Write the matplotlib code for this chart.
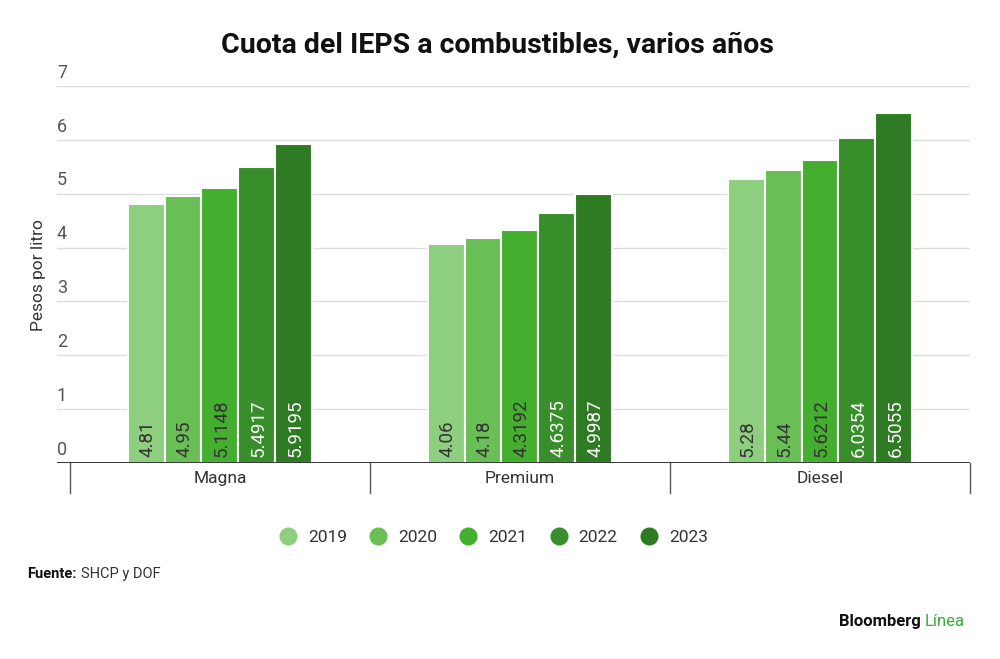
import matplotlib
matplotlib.use('Agg')
import matplotlib.pyplot as plt
from matplotlib.lines import Line2D
import numpy as np

plt.rcParams['font.family'] = ['Roboto', 'DejaVu Sans']

categories = ['Magna', 'Premium', 'Diesel']
years = ['2019', '2020', '2021', '2022', '2023']
values = {
    '2019': [4.81, 4.06, 5.28],
    '2020': [4.95, 4.18, 5.44],
    '2021': [5.1148, 4.3192, 5.6212],
    '2022': [5.4917, 4.6375, 6.0354],
    '2023': [5.9195, 4.9987, 6.5055],
}
labels = {
    '2019': ['4.81', '4.06', '5.28'],
    '2020': ['4.95', '4.18', '5.44'],
    '2021': ['5.1148', '4.3192', '5.6212'],
    '2022': ['5.4917', '4.6375', '6.0354'],
    '2023': ['5.9195', '4.9987', '6.5055'],
}
colors = ['#8dcf7f', '#69be55', '#44ae2e', '#388e2a', '#2e7b23']
text_colors = ['#333333', '#333333', '#333333', 'white', 'white']
y_ticks = [0, 1, 2, 3, 4, 5, 6, 7]

fig = plt.figure(figsize=(10, 6.59), dpi=100)
ax = fig.add_axes([0.057, 0.2974, 0.913, 0.572])

x = np.arange(len(categories))
slot = 0.1233
for i, yr in enumerate(years):
    pos = x + (i - 2) * slot
    ax.bar(pos, values[yr], width=slot, color=colors[i],
           edgecolor='white', linewidth=1.5, zorder=3)
    for p, lab in zip(pos, labels[yr]):
        ax.text(p + 0.005, 0.12, lab, rotation=90, ha='center', va='bottom',
                fontsize=13.5, color=text_colors[i], zorder=4)

ax.set_xlim(-0.5433, 2.5)
ax.set_ylim(0, 7)

# gridlines and y labels placed above the lines
for t in y_ticks[1:]:
    ax.axhline(t, color='#dddddd', linewidth=1, zorder=1)
for t in y_ticks:
    ax.text(-0.5433, t + 0.08, str(t), ha='left', va='bottom',
            fontsize=13, color='#555555')
ax.axhline(0, color='#222222', linewidth=2, zorder=5)

# category separators below the axis
for s in [-0.5, 0.5, 1.5, 2.5]:
    ax.plot([s, s], [0, -0.55], color='#555555', linewidth=1, clip_on=False)
for xi, c in zip(x, categories):
    ax.text(xi, -0.28, c, ha='center', va='center', fontsize=12.5, color='#333333')

for sp in ax.spines.values():
    sp.set_visible(False)
ax.set_xticks([])
ax.set_yticks([])

fig.text(0.038, 0.583, 'Pesos por litro', rotation=90, ha='center', va='center',
         fontsize=12.5, color='#333333')

fig.text(0.497, 0.932, 'Cuota del IEPS a combustibles, varios años', ha='center',
         va='center', fontsize=20.5, fontweight='bold', color='#111111')

handles = [Line2D([], [], marker='o', linestyle='none', markersize=12,
                  markerfacecolor=c, markeredgecolor=c) for c in colors]
fig.legend(handles, years, loc='center', bbox_to_anchor=(0.491, 0.185), ncol=5,
           frameon=False, fontsize=12.5, handletextpad=0.35, columnspacing=1.0,
           handlelength=1.6, labelcolor='#333333')

fig.text(0.027, 0.129, 'Fuente:', ha='left', va='center', fontsize=10.5,
         fontweight='bold', color='#111111')
fig.text(0.081, 0.129, 'SHCP y DOF', ha='left', va='center', fontsize=10.5,
         color='#333333')

fig.text(0.925, 0.057, 'Línea', ha='left', va='center', fontsize=12,
         color='#3aa83a')
fig.text(0.921, 0.057, 'Bloomberg', ha='right', va='center', fontsize=12,
         fontweight='bold', color='#111111')

fig.savefig('out.png', dpi=100)
